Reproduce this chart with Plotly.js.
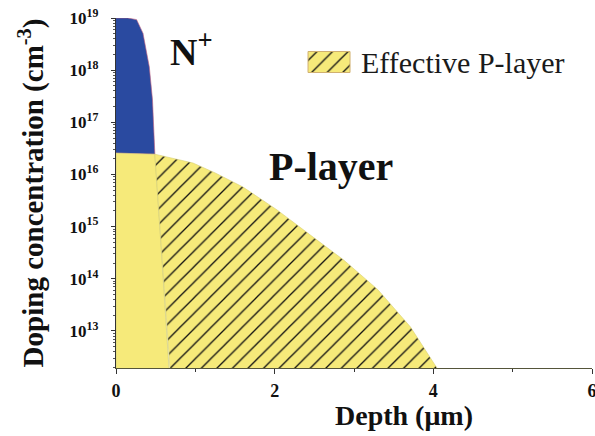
<!DOCTYPE html>
<html>
<head>
<meta charset="utf-8">
<script src="https://cdn.plot.ly/plotly-3.0.1.min.js"></script>
<style>html,body{margin:0;padding:0;background:#fff;}#chart{width:595px;height:436px;}</style>
</head>
<body>
<div id="chart"></div>
<script>
// P-layer doping profile (depth in µm, concentration in cm^-3)
var depthP = [0, 0.25, 0.49, 0.75, 0.97, 1.25, 1.60, 2.03, 2.45, 2.87, 3.30, 3.71, 4.05];
var concP  = [2.57e16, 2.51e16, 2.45e16, 2.0e16, 1.66e16, 1.07e16, 5.75e15, 2.09e15, 6.9e14, 2.29e14, 6.2e13, 1.2e13, 1.9e12];
// N+ doping profile
var depthN = [0, 0.15, 0.26, 0.34, 0.42, 0.46, 0.49, 0.58, 0.68];
var concN  = [1e19, 1e19, 9.3e18, 5.1e18, 1.15e18, 2.7e17, 2.45e16, 2.3e14, 1.9e12];
var crossP = 2, crossN = 6;   // indices where N+ meets the P-layer curve
var floorC = 1e12;            // below the visible axis range
var yTickVals = [1e13, 1e14, 1e15, 1e16, 1e17, 1e18, 1e19];
var yTickText = ['10<sup>13</sup>','10<sup>14</sup>','10<sup>15</sup>','10<sup>16</sup>','10<sup>17</sup>','10<sup>18</sup>','10<sup>19</sup>'];
var xTickVals = [0, 2, 4, 6];
var legendName = 'Effective P-layer';

var blue = '#2a4aa0', yellow = '#f6ea7a';

// blue N+ region: above P curve, below N+ curve
var bx = depthN.slice(0, crossN + 1).concat(depthP.slice(0, crossP + 1).reverse());
var by = concN.slice(0, crossN + 1).concat(concP.slice(0, crossP + 1).reverse());
// plain yellow: under P curve, left of N+ curve
var px = [0].concat(depthP.slice(0, crossP + 1), depthN.slice(crossN + 1), [depthN[depthN.length-1]]);
var py = [floorC].concat(concP.slice(0, crossP + 1), concN.slice(crossN + 1), [floorC]);
// hatched effective P-layer: under P curve, right of N+ curve
var hx = depthN.slice(crossN).concat([depthN[depthN.length-1], depthP[depthP.length-1]], depthP.slice(crossP).reverse());
var hy = concN.slice(crossN).concat([floorC, floorC], concP.slice(crossP).reverse());

var minorY = [];
for (var k = 12; k < 19; k++) for (var m = 2; m <= 9; m++) minorY.push(m * Math.pow(10, k));

var traces = [
  {x: bx, y: by, type: 'scatter', mode: 'lines', fill: 'toself', fillcolor: blue,
   line: {color: '#c06080', width: 0.6}, showlegend: false, hoverinfo: 'skip'},
  {x: px, y: py, type: 'scatter', mode: 'lines', fill: 'toself', fillcolor: yellow,
   line: {color: '#c8c880', width: 0.6}, showlegend: false, hoverinfo: 'skip'},
  {x: hx, y: hy, type: 'scatter', mode: 'lines', fill: 'toself', fillcolor: yellow, name: legendName,
   fillpattern: {shape: '/', bgcolor: yellow, fgcolor: '#111', size: 11, solidity: 0.12},
   line: {color: '#d8d070', width: 0.6}, showlegend: true, hoverinfo: 'skip'}
];

var serif = 'Liberation Serif, Times New Roman, serif';
var layout = {
  width: 595, height: 436,
  margin: {l: 116, r: 3, t: 18, b: 68},
  paper_bgcolor: '#fff', plot_bgcolor: '#fff',
  showlegend: true,
  legend: {x: 0.4013, y: 0.95, xanchor: 'left', yanchor: 'top', bgcolor: 'rgba(0,0,0,0)',
           itemwidth: 44,
           font: {family: serif, size: 30, color: '#1a1a1a'}},
  xaxis: {range: [0, 6], tickvals: xTickVals, ticks: 'outside', ticklen: 5, tickcolor: '#333',
          ticklabeloverflow: 'allow', ticklabelstandoff: 1,
          showline: true, linecolor: '#55553a', linewidth: 1.2, showgrid: false, zeroline: false,
          tickfont: {family: serif, size: 18, color: '#111', weight: 'bold'},
          minor: {dtick: 1, ticks: 'outside', ticklen: 3, tickcolor: '#333', showgrid: false}},
  yaxis: {type: 'log', range: [12.29, 19.0], tickvals: yTickVals, ticktext: yTickText,
          ticks: 'outside', ticklen: 4, tickcolor: '#333', ticklabelstandoff: 9,
          showline: true, linecolor: '#333', linewidth: 1.2, showgrid: false, zeroline: false,
          tickfont: {family: serif, size: 17, color: '#111', weight: 'bold'},
          minor: {tickmode: 'array', tickvals: minorY, ticks: 'outside', ticklen: 2, tickcolor: '#555', showgrid: false},
          title: {text: 'Doping concentration (cm<sup>-3</sup>)', standoff: 17,
                  font: {family: serif, size: 29, color: '#111', weight: 'bold'}}},
  annotations: [
    {xref: 'paper', yref: 'paper', x: 0.605, y: -0.135, xanchor: 'center', yanchor: 'middle',
     text: 'Depth (μm)', showarrow: false, font: {family: serif, size: 28, color: '#111', weight: 'bold'}},
    {xref: 'x', yref: 'y', x: 0.95, y: 18.4, xanchor: 'center', yanchor: 'middle',
     text: 'N<sup>+</sup>', showarrow: false, font: {family: serif, size: 38, color: '#111', weight: 'bold'}},
    {xref: 'x', yref: 'y', x: 2.71, y: 16.15, xanchor: 'center', yanchor: 'middle',
     text: 'P-layer', showarrow: false, font: {family: serif, size: 40, color: '#111', weight: 'bold'}}
  ]
};

Plotly.newPlot('chart', traces, layout, {displayModeBar: false, staticPlot: true}).then(function (gd) {
  // enlarge the legend swatch to a box like the reference
  gd.querySelectorAll('.legend .legendfill path').forEach(function (p) {
    p.setAttribute('d', 'M1,-10h42v21h-42z');
    p.style.stroke = '#d0b070';
    p.style.strokeWidth = '1px';
  });
  gd.querySelectorAll('.legend .legendlines path').forEach(function (p) {
    p.style.display = 'none';
  });
});
</script>
</body>
</html>
